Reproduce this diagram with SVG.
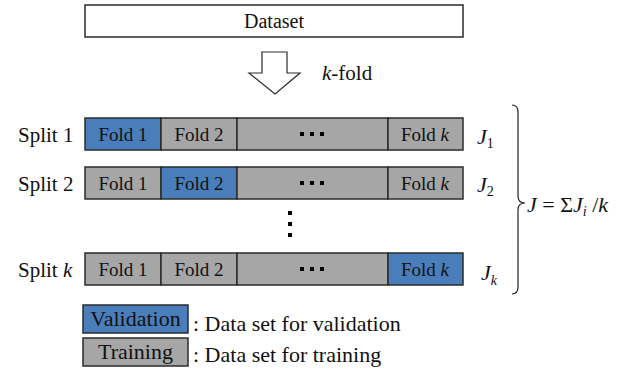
<svg xmlns="http://www.w3.org/2000/svg" width="618" height="380" viewBox="0 0 618 380">
  <style>
    text { font-family: "Liberation Serif", "Times New Roman", serif; fill: #111; }
    .val { fill: #4a7ebb; stroke: #2b2b2b; stroke-width: 1.5; }
    .trn { fill: #a6a6a6; stroke: #2b2b2b; stroke-width: 1.5; }
    .fold { font-size: 19px; text-anchor: middle; }
    .lbl { font-size: 21px; }
    .jl { font-size: 22px; }
    .leg { font-size: 22px; }
    .it { font-style: italic; }
    .dot { fill: #000; }
  </style>
  <defs>
    <g id="hdots">
      <rect class="dot" x="-12" y="-2" width="4" height="4"/>
      <rect class="dot" x="-2" y="-2" width="4" height="4"/>
      <rect class="dot" x="8" y="-2" width="4" height="4"/>
    </g>
  </defs>

  <rect width="618" height="380" fill="#fff"/>

  <!-- dataset -->
  <g id="dataset">
    <rect x="85" y="5" width="378" height="32" fill="#fff" stroke="#2b2b2b" stroke-width="1.5"/>
    <text x="274" y="28" font-size="20" text-anchor="middle">Dataset</text>
  </g>

  <!-- k-fold block arrow -->
  <g id="kfold">
    <polygon points="262,52 287,52 287,73 300,73 275,94 249,73 262,73" fill="#fff" stroke="#2b2b2b" stroke-width="1.2"/>
    <text x="322" y="80" font-size="21"><tspan class="it">k</tspan>-fold</text>
  </g>

  <!-- split 1 -->
  <g id="split1">
    <text class="lbl" x="18" y="142">Split 1</text>
    <rect class="val" x="85" y="118" width="76" height="32"/>
    <rect class="trn" x="161" y="118" width="76" height="32"/>
    <rect class="trn" x="237" y="118" width="151" height="32"/>
    <rect class="trn" x="388" y="118" width="75" height="32"/>
    <text class="fold" x="123" y="141">Fold 1</text>
    <text class="fold" x="199" y="141">Fold 2</text>
    <use href="#hdots" x="312" y="134"/>
    <text class="fold" x="425" y="141">Fold <tspan class="it">k</tspan></text>
    <text class="jl" x="477" y="144"><tspan class="it">J</tspan><tspan font-size="14" dy="4">1</tspan></text>
  </g>

  <!-- split 2 -->
  <g id="split2">
    <text class="lbl" x="18" y="191">Split 2</text>
    <rect class="trn" x="85" y="167" width="76" height="32"/>
    <rect class="val" x="161" y="167" width="76" height="32"/>
    <rect class="trn" x="237" y="167" width="151" height="32"/>
    <rect class="trn" x="388" y="167" width="75" height="32"/>
    <text class="fold" x="123" y="190">Fold 1</text>
    <text class="fold" x="199" y="190">Fold 2</text>
    <use href="#hdots" x="312" y="183"/>
    <text class="fold" x="425" y="190">Fold <tspan class="it">k</tspan></text>
    <text class="jl" x="477" y="192"><tspan class="it">J</tspan><tspan font-size="14" dy="4">2</tspan></text>
  </g>

  <!-- vertical ellipsis -->
  <g id="vdots">
    <rect class="dot" x="288" y="211" width="4" height="4"/>
    <rect class="dot" x="288" y="222" width="4" height="4"/>
    <rect class="dot" x="288" y="233" width="4" height="4"/>
  </g>

  <!-- split k -->
  <g id="splitk">
    <text class="lbl" x="18" y="277">Split <tspan class="it">k</tspan></text>
    <rect class="trn" x="85" y="253" width="76" height="32"/>
    <rect class="trn" x="161" y="253" width="76" height="32"/>
    <rect class="trn" x="237" y="253" width="151" height="32"/>
    <rect class="val" x="388" y="253" width="75" height="32"/>
    <text class="fold" x="123" y="276">Fold 1</text>
    <text class="fold" x="199" y="276">Fold 2</text>
    <use href="#hdots" x="312" y="269"/>
    <text class="fold" x="425" y="276">Fold <tspan class="it">k</tspan></text>
    <text class="jl" x="481" y="280"><tspan class="it">J</tspan><tspan class="it" font-size="14" dy="5">k</tspan></text>
  </g>

  <!-- averaging brace -->
  <g id="average">
    <path d="M512,105 Q518,105 518,112 L518,196 Q518,203 525,203 Q518,203 518,210 L518,287 Q518,294 512,294" fill="none" stroke="#222" stroke-width="1.2"/>
    <text class="jl" x="527" y="212" font-size="23.5"><tspan class="it">J</tspan> = Σ<tspan class="it">J</tspan><tspan class="it" font-size="14" dy="4">i</tspan><tspan dy="-4"> /</tspan><tspan class="it">k</tspan></text>
  </g>

  <!-- legend -->
  <g id="legend">
    <rect class="val" x="83" y="305" width="105" height="28"/>
    <text class="leg" x="135.5" y="326" text-anchor="middle" font-size="21">Validation</text>
    <text class="leg" x="193" y="331">: Data set for validation</text>
    <rect class="trn" x="83" y="338" width="105" height="28"/>
    <text class="leg" x="135.5" y="359" text-anchor="middle" font-size="21">Training</text>
    <text class="leg" x="193" y="362">: Data set for training</text>
  </g>
</svg>
